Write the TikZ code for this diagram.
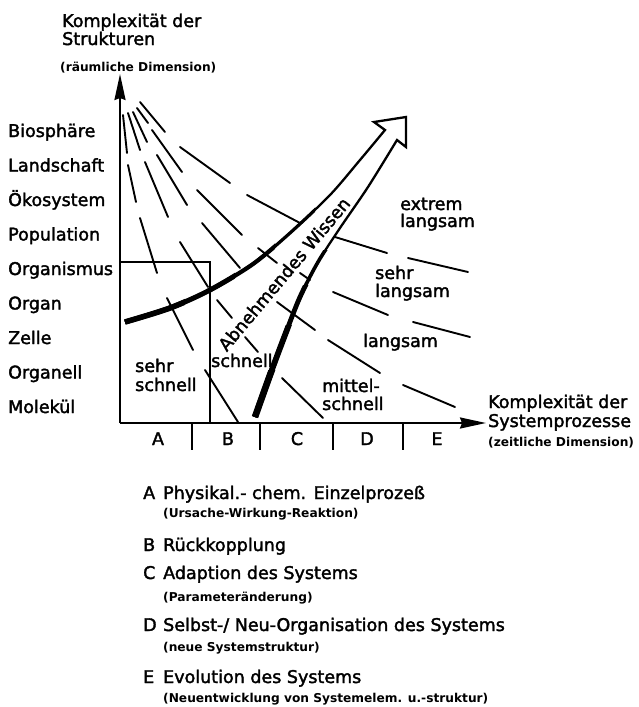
\documentclass[tikz,border=0pt]{standalone}
\usepackage{fontspec}
\setmainfont{DejaVu Sans}
\newfontfamily\lblfont{DejaVu Sans}[FakeBold=2]
\usetikzlibrary{arrows.meta}
\begin{document}
\begin{tikzpicture}[x=1pt,y=-1pt,
  lbl/.style={font=\lblfont\fontsize{17.5}{19}\selectfont, inner sep=0pt, anchor=base west},
  sml/.style={font=\bfseries\fontsize{12.2}{13}\selectfont, inner sep=0pt, anchor=base west},
  axisline/.style={line width=2pt, -{Stealth[length=26pt,width=11pt,inset=2pt]}},
  tickline/.style={line width=1.6pt},
  isoline/.style={line width=1.9pt, line cap=round},
  edge/.style={line width=2.3pt, line join=miter}]
\useasboundingbox (0,0) rectangle (639,707);

% axes
\coordinate (O) at (120,423);
\coordinate (Ytip) at (120,74);
\coordinate (Xtip) at (486,423);
\draw[axisline] (O) -- (Ytip);
\draw[axisline] (O) -- (Xtip);
\foreach \x in {192,260,333,403} \draw[tickline] (\x,423) -- (\x,450);
\coordinate (BoxTL) at (120,262);
\coordinate (BoxTR) at (210,262);
\coordinate (BoxBR) at (210,423);
\draw[tickline] (BoxTL) -- (BoxTR) -- (BoxBR);

% isolines (dashed by hand)
\foreach \a/\b in {
  {(123,115)}/{(127,153)}, {(128,165)}/{(136,202)}, {(140,218)}/{(157,273)}, {(167,298)}/{(193,350)}, {(205,370)}/{(238,422)},
  {(128,113)}/{(140,150)}, {(145,162)}/{(168,217)}, {(180,242)}/{(208,287)}, {(217,300)}/{(232,318)}, {(245,337)}/{(258,352)}, {(282,378)}/{(323,418)},
  {(133,112)}/{(147,142)}, {(157,155)}/{(187,205)}, {(202,223)}/{(240,268)}, {(277,302)}/{(315,330)}, {(328,340)}/{(380,373)}, {(403,385)}/{(455,407)},
  {(137,108)}/{(148,123)}, {(152,130)}/{(182,172)}, {(197,190)}/{(242,235)}, {(258,248)}/{(277,263)}, {(300,273)}/{(310,280)}, {(333,292)}/{(388,315)}, {(413,322)}/{(470,337)},
  {(140,102)}/{(165,132)}, {(180,147)}/{(230,183)}, {(247,195)}/{(300,223)}, {(335,237)}/{(387,253)}, {(408,258)}/{(468,272)}}
  \draw[isoline] \a -- \b;

% hollow arrow "Abnehmendes Wissen"
\draw[edge] plot[smooth] coordinates {(125,322) (170,308) (210,290) (253,264) (290,233) (330,195) (360,160) (385,130)}
  -- (374,122) -- (406,117) -- (406,147) -- (397,140)
  -- plot[smooth] coordinates {(397,140) (368,187) (340,228) (318,262) (300,297) (285,335) (270,375) (255,417)};
% thickened lower parts
\foreach \lim/\w in {185/5.6, 235/5.0, 275/4.2, 315/3.2} {
  \begin{scope}
    \clip (0,0) rectangle (\lim,707);
    \draw[line width=\w pt] plot[smooth] coordinates {(125,322) (170,308) (210,290) (253,264) (290,233) (330,195) (360,160) (385,130)};
  \end{scope}
}
\foreach \lim/\w in {370/6.6, 325/5.8, 285/4.8, 250/3.6} {
  \begin{scope}
    \clip (0,\lim) rectangle (639,707);
    \draw[line width=\w pt] plot[smooth] coordinates {(397,140) (368,187) (340,228) (318,262) (300,297) (285,335) (270,375) (255,417)};
  \end{scope}
}
\node[font=\lblfont\fontsize{17.5}{19}\selectfont, inner sep=0pt, rotate=50] (wissen) at (284,274) {Abnehmendes Wissen};

% axis titles
\node[lbl] (yt1) at (62,27) {Komplexität der};
\node[lbl] (yt2) at (62,45) {Strukturen};
\node[sml] (yt3) at (60,71) {(räumliche Dimension)};
\node[lbl] (xt1) at (488,408) {Komplexität der};
\node[lbl] (xt2) at (488,427) {Systemprozesse};
\node[sml] (xt3) at (488,446) {(zeitliche Dimension)};

% structure levels
\node[lbl] (l1) at (8,137) {Biosphäre};
\node[lbl] (l2) at (8,171.5) {Landschaft};
\node[lbl] (l3) at (8,206) {Ökosystem};
\node[lbl] (l4) at (8,240.5) {Population};
\node[lbl] (l5) at (8,275) {Organismus};
\node[lbl] (l6) at (8,309.5) {Organ};
\node[lbl] (l7) at (8,344) {Zelle};
\node[lbl] (l8) at (8,378.5) {Organell};
\node[lbl] (l9) at (8,413) {Molekül};

% process classes on the axis
\node[lbl, anchor=base] (tA) at (158,445) {A};
\node[lbl, anchor=base] (tB) at (228,445) {B};
\node[lbl, anchor=base] (tC) at (297,445) {C};
\node[lbl, anchor=base] (tD) at (367,445) {D};
\node[lbl, anchor=base] (tE) at (437,445) {E};

% speed regions
\node[lbl] (r1a) at (135,372) {sehr};
\node[lbl] (r1b) at (135,391) {schnell};
\node[lbl] (r2) at (211,367) {schnell};
\node[lbl] (r3a) at (322,392) {mittel-};
\node[lbl] (r3b) at (322,410) {schnell};
\node[lbl] (r4) at (363,347) {langsam};
\node[lbl] (r5a) at (375,279) {sehr};
\node[lbl] (r5b) at (375,297) {langsam};
\node[lbl] (r6a) at (400,210) {extrem};
\node[lbl] (r6b) at (400,227) {langsam};

% legend
\node[lbl] (kA) at (143,499) {A};
\node[lbl] (dA) at (163,499) {Physikal.- chem. Einzelprozeß};
\node[sml] (sA) at (163,517) {(Ursache-Wirkung-Reaktion)};
\node[lbl] (kB) at (143,551) {B};
\node[lbl] (dB) at (163,551) {Rückkopplung};
\node[lbl] (kC) at (143,579) {C};
\node[lbl] (dC) at (163,579) {Adaption des Systems};
\node[sml] (sC) at (163,601) {(Parameteränderung)};
\node[lbl] (kD) at (143,631) {D};
\node[lbl] (dD) at (163,631) {Selbst-/ Neu-Organisation des Systems};
\node[sml] (sD) at (163,651) {(neue Systemstruktur)};
\node[lbl] (kE) at (143,683) {E};
\node[lbl] (dE) at (163,683) {Evolution des Systems};
\node[sml] (sE) at (163,702) {(Neuentwicklung von Systemelem. u.-struktur)};
\end{tikzpicture}
\end{document}
